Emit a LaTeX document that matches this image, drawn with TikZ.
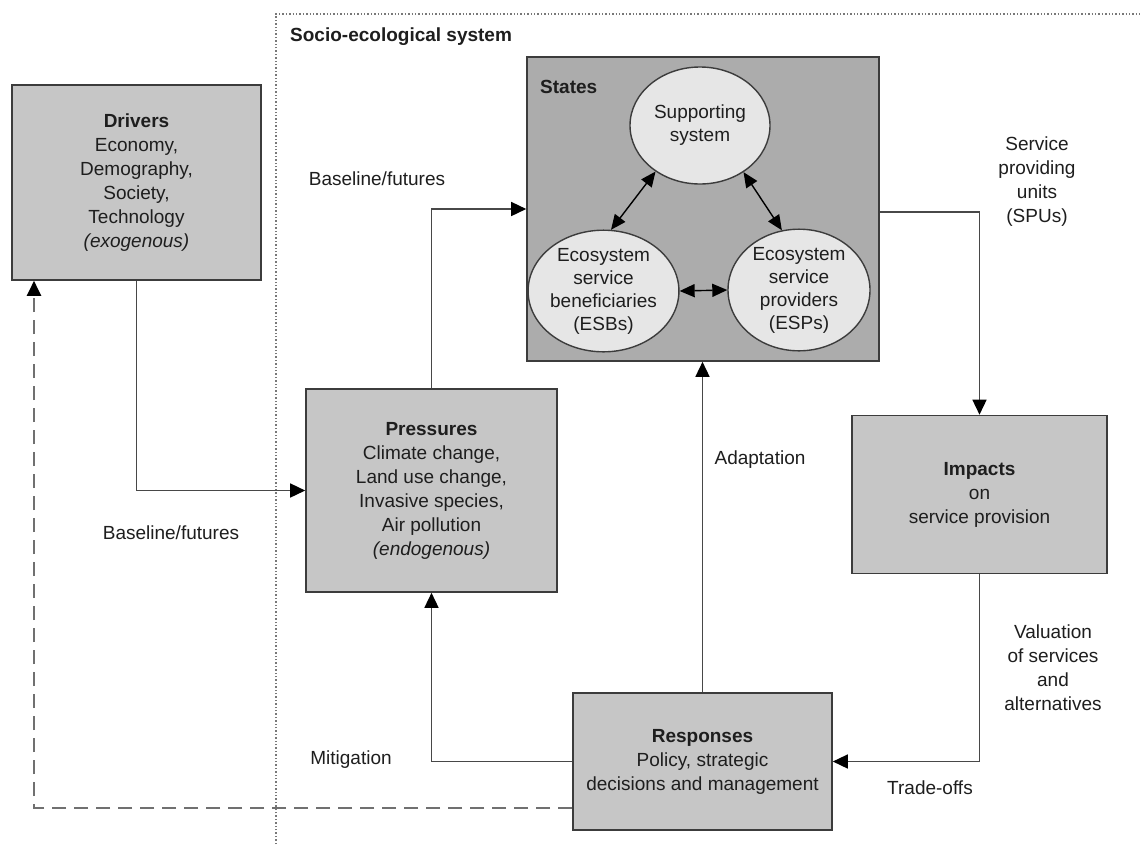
\documentclass[tikz,border=0pt]{standalone}
\usepackage{fontspec}
\setmainfont{Liberation Sans}
\usetikzlibrary{arrows.meta,shapes.geometric,calc}
\definecolor{boxfill}{RGB}{198,198,198}
\definecolor{statefill}{RGB}{172,172,172}
\definecolor{ellfill}{RGB}{230,230,230}
\definecolor{edgec}{RGB}{60,60,60}
\definecolor{linec}{RGB}{72,72,72}
\definecolor{txt}{RGB}{30,30,30}
\definecolor{dashc}{RGB}{112,112,112}
\definecolor{dotc}{RGB}{120,120,120}
\tikzset{
  box/.style={draw=edgec, line width=1.6pt, fill=boxfill, align=center, inner sep=0pt, text=txt},
  ell/.style={ellipse, draw=edgec, line width=1.4pt, fill=ellfill, align=center, inner sep=0pt, text=txt,
    font=\fontsize{19}{23}\selectfont},
  conn/.style={draw=linec, line width=1.5pt, -{Triangle[length=15pt,width=14pt,color=black]}},
  dbl/.style={draw=black, line width=1.4pt, {Triangle[length=15pt,width=13pt]}-{Triangle[length=15pt,width=13pt]}},
  dashconn/.style={draw=dashc, line width=2.2pt, dash pattern=on 14pt off 8pt, -{Triangle[length=15pt,width=14pt,color=black]}},
  lbl/.style={align=center, inner sep=0pt, text=txt},
}
\begin{document}
\begin{tikzpicture}[x=1pt,y=-1pt,font=\fontsize{19}{24}\selectfont]
\useasboundingbox (0,0) rectangle (1140,844);
\fill[white] (0,0) rectangle (1140,844);

% system boundary
\draw[dotc, line width=1.4pt, dotted] (276,844) -- (276,14) -- (1140,14);
\node[lbl, anchor=west, font=\fontsize{19}{24}\selectfont\bfseries] (sys) at (290,37) {Socio-ecological system};

% boxes
\node[box, minimum width=249pt, minimum height=195pt] (drivers) at (136.5,182.5)
  {\textbf{Drivers}\\Economy,\\Demography,\\Society,\\Technology\\\textit{(exogenous)}};
\node[box, minimum width=251pt, minimum height=203pt] (pressures) at (431.5,490.5)
  {\textbf{Pressures}\\Climate change,\\Land use change,\\Invasive species,\\Air pollution\\\textit{(endogenous)}};
\node[box, fill=statefill, minimum width=352pt, minimum height=304pt] (states) at (703,209) {};
\node[lbl, anchor=west, font=\fontsize{19}{24}\selectfont\bfseries] (stlbl) at (540,87) {States};
\node[box, minimum width=255pt, minimum height=158pt] (impacts) at (979.5,494.5)
  {\textbf{Impacts}\\on\\service provision};
\node[box, minimum width=259pt, minimum height=137pt] (responses) at (702.5,761.5)
  {\textbf{Responses}\\Policy, strategic\\decisions and management};

% ellipses
\node[ell, minimum width=140pt, minimum height=117pt] (ss) at (700,125.5) {Supporting\\system};
\node[ell, minimum width=133pt, minimum height=110pt] (esb) at (603.5,291) {Ecosystem\\service\\beneficiaries\\(ESBs)};
\node[ell, minimum width=142pt, minimum height=120pt] (esp) at (799,290) {Ecosystem\\service\\providers\\(ESPs)};

\draw[dbl] (ss.226) -- (esb.83);
\draw[dbl] (ss.313) -- (esp.106);
\draw[dbl] (esb.east) -- (esp.west);

% connectors
\draw[conn] (drivers.south) |- (pressures.west);
\draw[conn] (pressures.north) |- (states.west);
\draw[conn] ([yshift=-3pt]states.east) -| (impacts.north);
\draw[conn] (impacts.south) |- (responses.east);
\draw[conn] (responses.north) -- (responses.north |- states.south);
\draw[conn] (responses.west) -| (pressures.south);
\coordinate (dk) at (34,808);
\draw[dashconn] (responses.west |- dk) -- (dk) -- (dk |- drivers.south);

% labels
\node[lbl] (bl1) at (377,179) {Baseline/futures};
\node[lbl] (bl2) at (171,533) {Baseline/futures};
\node[lbl] (mit) at (351,760) {Mitigation};
\node[lbl] (adapt) at (760,460) {Adaptation};
\node[lbl] (spu) at (1037,182) {Service\\providing\\units\\(SPUs)};
\node[lbl] (val) at (1053,668) {Valuation\\of services\\and\\alternatives};
\node[lbl] (trade) at (930,788) {Trade-offs};
\end{tikzpicture}
\end{document}
